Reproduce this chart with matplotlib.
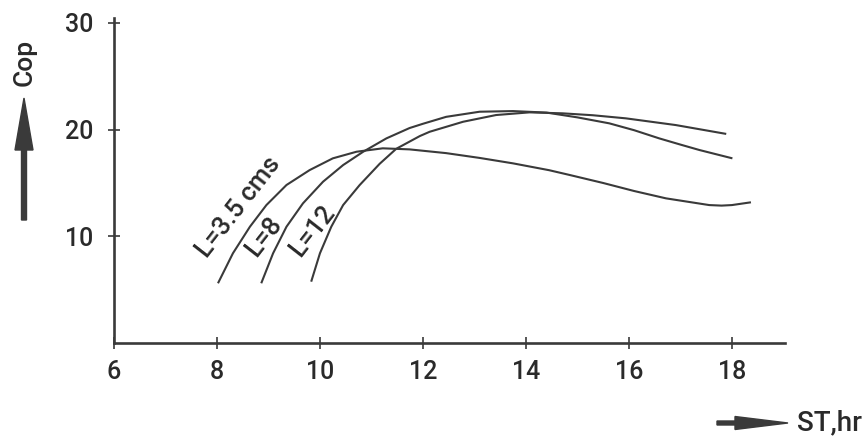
import matplotlib
matplotlib.use("Agg")
import matplotlib.pyplot as plt
from matplotlib.patches import FancyArrow
from matplotlib.transforms import IdentityTransform

plt.rcParams['font.family'] = ['Roboto', 'Liberation Sans', 'DejaVu Sans']
plt.rcParams['font.weight'] = 'medium'

# Cop vs sowing time for three plot lengths
st_35 = [8.02, 8.31, 8.64, 8.96, 9.35, 9.8, 10.25, 10.71, 11.22, 11.74, 12.45,
         13.1, 13.75, 14.45, 14.85, 15.5, 16.1, 16.72, 17.2, 17.56, 17.8, 18.0,
         18.37]
cop_35 = [5.6, 8.41, 10.9, 12.93, 14.81, 16.21, 17.31, 17.93, 18.25, 18.15, 17.8,
          17.35, 16.84, 16.2, 15.75, 15.0, 14.25, 13.56, 13.2, 12.93, 12.88,
          12.93, 13.19]

st_8 = [8.86, 9.09, 9.35, 9.67, 10.06, 10.45, 10.84, 11.29, 11.74, 12.0, 12.45,
        13.1, 13.75, 14.4, 15.0, 15.62, 16.1, 16.59, 17.0, 17.37, 18.01]
cop_8 = [5.6, 8.41, 10.9, 13.09, 15.12, 16.68, 17.93, 19.18, 20.15, 20.55, 21.2,
         21.68, 21.74, 21.6, 21.15, 20.59, 19.95, 19.18, 18.6, 18.09, 17.31]

st_12 = [9.83, 10.0, 10.22, 10.45, 10.77, 11.16, 11.48, 11.94, 12.13, 12.78,
         13.42, 14.07, 14.71, 15.3, 15.94, 16.91, 17.89]
cop_12 = [5.75, 8.41, 10.9, 12.93, 14.8, 16.8, 18.2, 19.4, 19.8, 20.74, 21.37,
          21.62, 21.53, 21.35, 21.06, 20.43, 19.6]

xticks = [6, 8, 10, 12, 14, 16, 18]
yticks = [10, 20, 30]

ink = '#3a3a3a'
txt = '#2a2a2a'

fig = plt.figure(figsize=(8.68, 4.43), dpi=100)
ax = fig.add_axes([0.1313, 0.2257, 0.773, 0.7345])

for xs, ys in [(st_35, cop_35), (st_8, cop_8), (st_12, cop_12)]:
    ax.plot(xs, ys, color=ink, lw=1.5, solid_capstyle='butt',
            solid_joinstyle='round')

ax.set_xlim(6, 19.03)
ax.set_ylim(0, 30.5)
ax.set_xticks(xticks)
ax.set_yticks(yticks)
for s in ['top', 'right']:
    ax.spines[s].set_visible(False)
for s in ['left', 'bottom']:
    ax.spines[s].set_linewidth(1.9)
    ax.spines[s].set_color(ink)
ax.tick_params(direction='inout', length=8, width=1.2, color=ink,
               labelsize=18, labelcolor=txt)
ax.tick_params(axis='y', pad=11)
ax.tick_params(axis='x', pad=8)

lab = dict(fontsize=18.5, color=txt, rotation=52, ha='center', va='center',
           rotation_mode='anchor')
ax.text(8.42, 12.75, 'L=3.5 cms', **lab)
ax.text(8.92, 10.0, 'L=8', **lab)
ax.text(9.85, 10.5, 'L=12', **lab)

# axis arrows, drawn in pixel coordinates
ident = IdentityTransform()
fig.patches.append(FancyArrow(24, 223, 0, 122, width=5, head_width=18,
                              head_length=52, length_includes_head=True,
                              color=ink, transform=ident, figure=fig))
fig.patches.append(FancyArrow(717, 20, 71, 0, width=4, head_width=13,
                              head_length=53, length_includes_head=True,
                              color=ink, transform=ident, figure=fig))
fig.text(25 / 868, 381 / 443, 'Cop', rotation=90, fontsize=19,
         color=txt, ha='center', va='center')
fig.text(797 / 868, 20 / 443, 'ST,hr', fontsize=20, color=txt,
         ha='left', va='center')

fig.savefig('out.png', dpi=100)
